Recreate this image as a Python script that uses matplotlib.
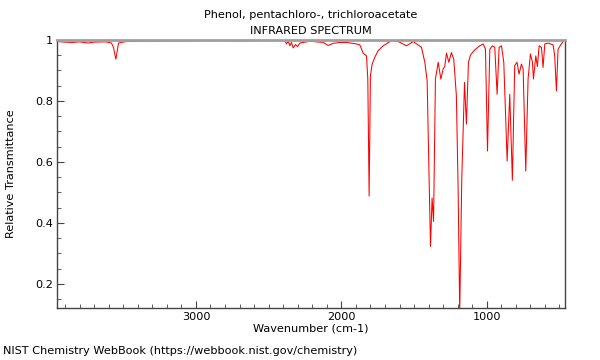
import numpy as np
import matplotlib
matplotlib.use("Agg")
import matplotlib.pyplot as plt
from matplotlib.ticker import MultipleLocator, FormatStrFormatter

# spectrum (wavenumber cm-1, relative transmittance)
wavenumber = [
    3955, 3900, 3850, 3800, 3742, 3700, 3620, 3580, 3566, 3556, 3550, 3544,
    3532, 3480, 3300, 3100, 2900, 2700, 2500, 2423, 2388, 2377, 2365, 2354,
    2343, 2331, 2315, 2301, 2285, 2216, 2125, 2090, 2056, 2010, 1964, 1896,
    1873, 1850, 1827, 1818, 1809, 1800, 1788, 1770, 1747, 1712, 1655, 1609,
    1552, 1506, 1449, 1426, 1410, 1401, 1387, 1376, 1366, 1353, 1334, 1316,
    1300, 1289, 1277, 1261, 1243, 1227, 1209, 1197, 1186, 1172, 1153, 1140,
    1126, 1112, 1082, 1048, 1025, 1009, 995, 979, 961, 945, 929, 915,
    899, 883, 860, 842, 824, 808, 792, 778, 762, 750, 732, 716,
    700, 686, 679, 663, 652, 640, 624, 613, 601, 578, 544, 533,
    521, 510, 487, 471, 462,
]
transmittance = [
    0.995, 0.993, 0.992, 0.994, 0.990, 0.993, 0.994, 0.990, 0.975, 0.950, 0.937, 0.955,
    0.990, 0.995, 0.996, 0.997, 0.998, 0.997, 0.998, 0.999, 0.998, 0.987, 0.996, 0.981,
    0.992, 0.974, 0.985, 0.978, 0.990, 0.996, 0.992, 0.982, 0.989, 0.992, 0.992, 0.987,
    0.984, 0.957, 0.948, 0.872, 0.488, 0.883, 0.921, 0.943, 0.965, 0.981, 0.998, 0.995,
    0.981, 0.995, 0.976, 0.927, 0.866, 0.652, 0.323, 0.482, 0.405, 0.872, 0.927, 0.872,
    0.905, 0.913, 0.957, 0.927, 0.959, 0.937, 0.817, 0.510, 0.104, 0.542, 0.861, 0.724,
    0.927, 0.951, 0.968, 0.981, 0.987, 0.970, 0.636, 0.970, 0.981, 0.976, 0.822, 0.976,
    0.981, 0.927, 0.603, 0.822, 0.540, 0.916, 0.927, 0.888, 0.921, 0.905, 0.570, 0.872,
    0.954, 0.927, 0.872, 0.948, 0.913, 0.981, 0.976, 0.910, 0.987, 0.990, 0.984, 0.948,
    0.833, 0.970, 0.987, 0.998, 1.000,
]

title = "Phenol, pentachloro-, trichloroacetate\nINFRARED SPECTRUM"
footer = "NIST Chemistry WebBook (https://webbook.nist.gov/chemistry)"
fs = 8.1

fig = plt.figure(figsize=(6, 3.6), dpi=100)
ax = fig.add_axes([0.095, 0.1444, 0.8467, 0.7445])

ax.plot(wavenumber, transmittance, color="red", lw=0.75)

ax.set_xlim(3955, 462)
ax.set_ylim(0.121, 1.0)

ax.xaxis.set_major_locator(MultipleLocator(1000))
ax.xaxis.set_minor_locator(MultipleLocator(100))
ax.yaxis.set_major_locator(MultipleLocator(0.2))
ax.yaxis.set_minor_locator(MultipleLocator(0.05))
ax.yaxis.set_major_formatter(FormatStrFormatter("%g"))

ax.tick_params(which="both", direction="in", top=False, right=False,
               labelsize=fs, color="#444444")
ax.tick_params(which="major", length=5, pad=3)
ax.tick_params(which="minor", length=3)

for side in ["left", "bottom", "right"]:
    ax.spines[side].set_color("#444444")
    ax.spines[side].set_linewidth(1)
ax.spines["top"].set_color("#a0a0a0")
ax.spines["top"].set_linewidth(2)

ax.set_xlabel("Wavenumber (cm-1)", fontsize=fs, labelpad=1)
ax.set_ylabel("Relative Transmittance", fontsize=fs, labelpad=14)
ax.set_title(title, fontsize=fs, linespacing=1.8, pad=4)

fig.text(0.005, 0.018, footer, fontsize=fs)

fig.savefig("out.png", dpi=100)
